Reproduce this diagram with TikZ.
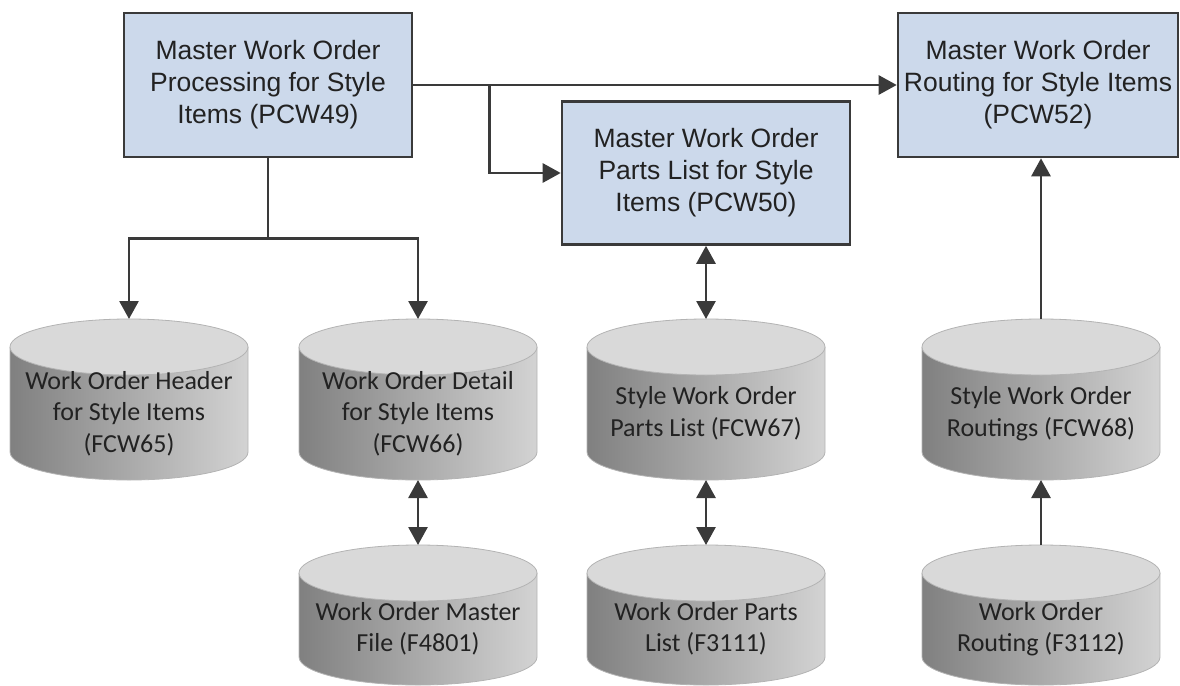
\documentclass[tikz,border=0pt]{standalone}
\usepackage{fontspec}
\setmainfont{Liberation Sans}
\newfontfamily\dbfont{Carlito}
\usetikzlibrary{arrows.meta,calc,positioning}
\definecolor{boxfill}{HTML}{CCD9EB}
\definecolor{ink}{HTML}{3A3A3A}
\definecolor{txt}{HTML}{222222}
\definecolor{cyltop}{HTML}{D9D9D9}
\definecolor{cylrim}{HTML}{B3B3B3}
\definecolor{cyldark}{HTML}{808080}
\definecolor{cyllight}{HTML}{D3D3D3}
\tikzset{>={Triangle[length=18pt,width=19pt]},
  procbox/.style={draw=ink,fill=boxfill,line width=2.6pt,align=center,text=txt,
    font=\fontsize{26.5}{32}\selectfont,inner sep=0pt},
  dbtext/.style={align=center,text=txt,font=\dbfont\fontsize{26}{31.5}\selectfont,inner sep=0pt},
  link/.style={draw=ink,line width=2.8pt}}
% cylinder: name, centre x, top centre y, bottom centre y, text
\newcommand{\dbcyl}[5]{%
  \shade[left color=cyldark,right color=cyllight] (#2-119,#3) -- (#2-119,#4)
    arc[start angle=180,end angle=0,x radius=119,y radius=28] -- (#2+119,#3) -- cycle;
  \draw[cylrim,line width=.8pt] (#2-119,#3) -- (#2-119,#4)
    arc[start angle=180,end angle=0,x radius=119,y radius=28] -- (#2+119,#3);
  \filldraw[fill=cyltop,draw=cylrim,line width=.8pt] (#2,#3) ellipse[x radius=119,y radius=28];
  \node[dbtext] (#1) at (#2,{(#3+28+#4)/2}) {#5};
  \coordinate (#1-top) at (#2,#3-28);
  \coordinate (#1-bot) at (#2,#4+28);
}

\begin{document}
\begin{tikzpicture}[x=1pt,y=-1pt]
\useasboundingbox (0,0) rectangle (1180,685);
% programs
\node[procbox,minimum width=288pt,minimum height=144pt] (pcw49) at (268,85)
  {Master Work Order\\Processing for Style\\Items (PCW49)};
\node[procbox,minimum width=288pt,minimum height=143pt] (pcw50) at (706,173)
  {Master Work Order\\Parts List for Style\\Items (PCW50)};
\node[procbox,minimum width=280pt,minimum height=144pt] (pcw52) at (1038,85)
  {Master Work Order\\Routing for Style Items\\(PCW52)};
% tables
\dbcyl{fcw65}{129}{347}{452}{Work Order Header\\for Style Items\\(FCW65)}
\dbcyl{fcw66}{418}{347}{452}{Work Order Detail\\for Style Items\\(FCW66)}
\dbcyl{fcw67}{706}{347}{452}{Style Work Order\\Parts List (FCW67)}
\dbcyl{fcw68}{1041}{347}{452}{Style Work Order\\Routings (FCW68)}
\dbcyl{f4801}{418}{573}{657}{Work Order Master\\File (F4801)}
\dbcyl{f3111}{706}{573}{657}{Work Order Parts\\List (F3111)}
\dbcyl{f3112}{1041}{573}{657}{Work Order\\Routing (F3112)}
% connectors
\coordinate (split) at ($(pcw49.south)+(0,80)$);
\coordinate (tap) at ($(pcw49.east)+(76,0)$);
\draw[link] (pcw49.south) -- (split);
\draw[link,->] (split) -| (fcw65-top);
\draw[link,->] (split) -| (fcw66-top);
\draw[link,->] (pcw49.east) -- (pcw52.west);
\draw[link,->] (tap) |- (pcw50.west);
\draw[link,<->] (pcw50.south) -- (fcw67-top);
\draw[link,<->] (fcw66-bot) -- (f4801-top);
\draw[link,<->] (fcw67-bot) -- (f3111-top);
\draw[link,->] (f3112-top) -- (fcw68-bot);
\draw[link,->] (fcw68-top) -- (fcw68-top |- pcw52.south);
\end{tikzpicture}
\end{document}
